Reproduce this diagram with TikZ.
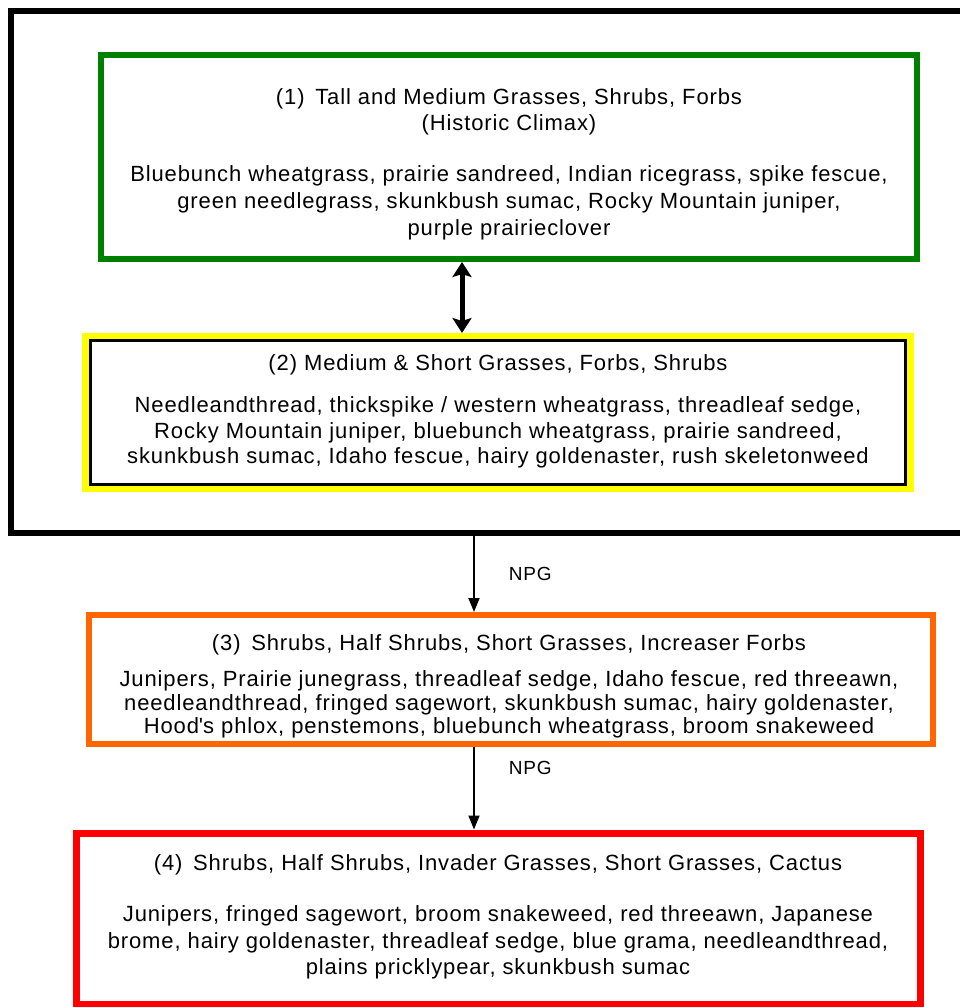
\documentclass[tikz,border=0pt]{standalone}
\usepackage{fontspec}
\setmainfont{Liberation Sans}[LetterSpace=4]
\usetikzlibrary{arrows.meta}
\definecolor{grn}{RGB}{0,128,0}
\definecolor{yel}{RGB}{255,255,0}
\definecolor{org}{RGB}{255,102,0}
\definecolor{rd}{RGB}{255,0,0}
\tikzset{
  box/.style={rectangle, inner sep=0pt, fill=none},
  txt/.style={align=center, inner sep=0pt, font=\fontsize{22}{26}\selectfont},
  lbl/.style={inner sep=0pt, font=\fontsize{19}{22}\selectfont},
  npg/.style={line width=1.8pt, -{Triangle[length=14pt,width=11pt]}},
  dbl/.style={line width=5pt, {Stealth[length=15pt,width=19pt,inset=3pt]}-{Stealth[length=15pt,width=19pt,inset=3pt]}},
}
\begin{document}
\begin{tikzpicture}[x=1pt,y=-1pt]
\useasboundingbox (0,0) rectangle (959,1007);
% outer frame
\node[box, draw=black, line width=6pt, minimum width=964pt, minimum height=522pt] (frame) at (493,272) {};
% boxes
\node[box, draw=grn, line width=6pt, minimum width=816pt, minimum height=204pt] (b1) at (509,157) {};
\node[box, draw=yel, line width=7pt, minimum width=825pt, minimum height=152pt] (b2) at (498,412.5) {};
\node[box, draw=black, line width=3pt, minimum width=815pt, minimum height=144pt] (b2in) at (498,412.5) {};
\node[box, draw=org, line width=6pt, minimum width=844pt, minimum height=129pt] (b3) at (511,679.5) {};
\node[box, draw=rd, line width=7pt, minimum width=844pt, minimum height=171pt] (b4) at (498,918.5) {};
% texts
\node[txt] (t1) at (509,112) {(1)\, Tall and Medium Grasses, Shrubs, Forbs\\(Historic Climax)};
\node[txt, font=\fontsize{22}{27}\selectfont] (l1) at (509,202.5) {Bluebunch wheatgrass, prairie sandreed, Indian ricegrass, spike fescue,\\green needlegrass, skunkbush sumac, Rocky Mountain juniper,\\purple prairieclover};
\node[txt] (t2) at (498,364.5) {(2) Medium \& Short Grasses, Forbs, Shrubs};
\node[txt, font=\fontsize{22}{25.5}\selectfont] (l2) at (498,432.5) {Needleandthread, thickspike / western wheatgrass, threadleaf sedge,\\Rocky Mountain juniper, bluebunch wheatgrass, prairie sandreed,\\skunkbush sumac, Idaho fescue, hairy goldenaster, rush skeletonweed};
\node[txt] (t3) at (509,644.5) {(3)\, Shrubs, Half Shrubs, Short Grasses, Increaser Forbs};
\node[txt, font=\fontsize{22}{23.5}\selectfont] (l3) at (509,704.5) {Junipers, Prairie junegrass, threadleaf sedge, Idaho fescue, red threeawn,\\needleandthread, fringed sagewort, skunkbush sumac, hairy goldenaster,\\Hood\textquotesingle s phlox, penstemons, bluebunch wheatgrass, broom snakeweed};
\node[txt] (t4) at (498,864.5) {(4)\, Shrubs, Half Shrubs, Invader Grasses, Short Grasses, Cactus};
\node[txt, font=\fontsize{22}{26.5}\selectfont] (l4) at (498,942.5) {Junipers, fringed sagewort, broom snakeweed, red threeawn, Japanese\\brome, hairy goldenaster, threadleaf sedge, blue grama, needleandthread,\\plains pricklypear, skunkbush sumac};
% connectors
\coordinate (dx) at (462,0);
\coordinate (ax) at (474,0);
\draw[dbl] (b1.south -| dx) -- (b2.north -| dx);
\draw[npg] (frame.south -| ax) -- (b3.north -| ax) node[lbl, pos=0.5, right=34pt] (n1) {NPG};
\draw[npg] (b3.south -| ax) -- (b4.north -| ax) node[lbl, pos=0.25, right=34pt] (n2) {NPG};
\end{tikzpicture}
\end{document}
